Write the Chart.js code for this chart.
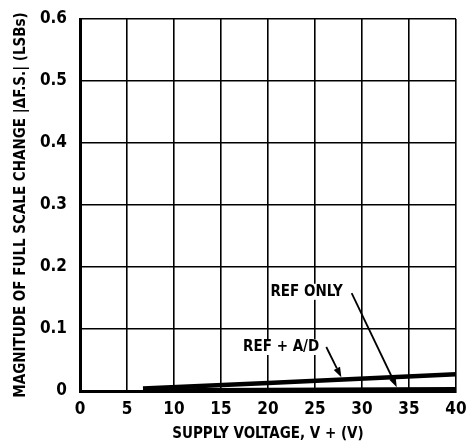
<!DOCTYPE html>
<html>
<head>
<meta charset="utf-8">
<script src="https://cdn.jsdelivr.net/npm/chart.js@4/dist/chart.umd.min.js"></script>
<style>
  html, body { margin: 0; padding: 0; background: #fff; }
  #wrap { width: 468px; height: 446px; position: relative; }
</style>
</head>
<body>
<div id="wrap"><canvas id="chart"></canvas></div>
<script>
// supply voltage (V) and |ΔF.S.| (LSBs)
const supplyVolts = [6.7, 20, 40];
const refAdLsb = [0.004, 0.013, 0.027];
const refOnlyLsb = [0.002, 0.003, 0.004];
const xTicks = [0, 5, 10, 15, 20, 25, 30, 35, 40];
const yTicks = [0, 0.1, 0.2, 0.3, 0.4, 0.5, 0.6];

const FONT = '"Liberation Sans Narrow", "DejaVu Sans Condensed", sans-serif';

// labels and arrows, placed in data units
const notes = [
  { text: 'REF ONLY', x: 24.1, y: 0.160, from: [28.9, 0.158], to: [33.7, 0.006] },
  { text: 'REF + A/D', x: 21.4, y: 0.071, from: [26.2, 0.071], to: [27.8, 0.022] }
];

const notePlugin = {
  id: 'notes',
  afterDatasetsDraw(chart) {
    const ctx = chart.ctx;
    const xs = chart.scales.x, ys = chart.scales.y;
    ctx.save();
    ctx.font = 'bold 15px ' + FONT;
    ctx.textAlign = 'center';
    ctx.textBaseline = 'middle';
    notes.forEach(n => {
      const px = xs.getPixelForValue(n.x), py = ys.getPixelForValue(n.y);
      const w = ctx.measureText(n.text).width;
      ctx.fillStyle = '#fff';
      ctx.fillRect(px - w / 2 - 1, py - 8, w + 2, 16);
      ctx.fillStyle = '#000';
      ctx.fillText(n.text, px, py);

      const x1 = xs.getPixelForValue(n.from[0]), y1 = ys.getPixelForValue(n.from[1]);
      const x2 = xs.getPixelForValue(n.to[0]), y2 = ys.getPixelForValue(n.to[1]);
      const a = Math.atan2(y2 - y1, x2 - x1);
      const hl = 10, hw = 3.5;
      const bx = x2 - hl * Math.cos(a), by = y2 - hl * Math.sin(a);
      ctx.strokeStyle = '#000';
      ctx.lineWidth = 1.8;
      ctx.beginPath();
      ctx.moveTo(x1, y1);
      ctx.lineTo(bx, by);
      ctx.stroke();
      ctx.beginPath();
      ctx.moveTo(x2, y2);
      ctx.lineTo(bx + hw * Math.sin(a), by - hw * Math.cos(a));
      ctx.lineTo(bx - hw * Math.sin(a), by + hw * Math.cos(a));
      ctx.closePath();
      ctx.fill();
    });
    ctx.restore();
  }
};

new Chart(document.getElementById('chart'), {
  type: 'line',
  data: {
    datasets: [
      {
        label: 'REF + A/D',
        data: supplyVolts.map((v, i) => ({ x: v, y: refAdLsb[i] })),
        borderColor: '#000',
        borderWidth: 4.5,
        pointRadius: 0,
        tension: 0,
        clip: false
      },
      {
        label: 'REF ONLY',
        data: supplyVolts.map((v, i) => ({ x: v, y: refOnlyLsb[i] })),
        borderColor: '#000',
        borderWidth: 3,
        pointRadius: 0,
        tension: 0,
        clip: false
      }
    ]
  },
  options: {
    responsive: true,
    maintainAspectRatio: false,
    animation: false,
    events: [],
    layout: { padding: { top: 19, right: 12, left: 0, bottom: 0 } },
    plugins: { legend: { display: false }, tooltip: { enabled: false } },
    scales: {
      x: {
        type: 'linear',
        min: 0,
        max: 40,
        afterBuildTicks: s => { s.ticks = xTicks.map(v => ({ value: v })); },
        afterFit: s => { s.height = 55; s.paddingLeft = 0; s.paddingRight = 0; },
        grid: { color: '#000', lineWidth: 1.6, drawTicks: false },
        border: { color: '#000', width: 3 },
        ticks: {
          color: '#000',
          padding: 8,
          font: { family: FONT, size: 17, weight: 'bold' }
        },
        title: {
          display: true,
          text: 'SUPPLY VOLTAGE, V + (V)',
          color: '#000',
          padding: { top: 0, bottom: 3 },
          font: { family: FONT, size: 15, weight: 'bold' }
        }
      },
      y: {
        min: 0,
        max: 0.6,
        afterBuildTicks: s => { s.ticks = yTicks.map(v => ({ value: v })); },
        afterFit: s => { s.width = 80; s.paddingTop = 0; s.paddingBottom = 0; },
        grid: { color: '#000', lineWidth: 1.6, drawTicks: false },
        border: { color: '#000', width: 3 },
        ticks: {
          color: '#000',
          padding: 13,
          font: { family: FONT, size: 17, weight: 'bold' },
          callback: v => (v === 0 ? '0' : v.toFixed(1))
        },
        title: {
          display: true,
          text: 'MAGNITUDE OF FULL SCALE CHANGE |ΔF.S.| (LSBs)',
          color: '#000',
          padding: { top: 12, bottom: 0 },
          font: { family: FONT, size: 15, weight: 'bold' }
        }
      }
    }
  },
  plugins: [notePlugin]
});
</script>
</body>
</html>
